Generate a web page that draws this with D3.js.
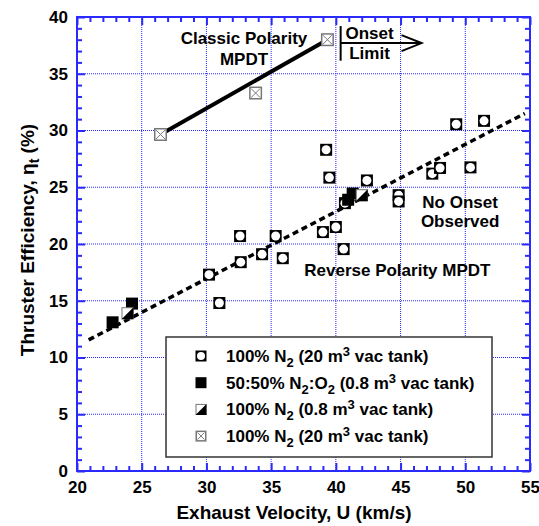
<!DOCTYPE html>
<html>
<head>
<meta charset="utf-8">
<script src="https://cdn.jsdelivr.net/npm/d3@7"></script>
<style>
  body { margin: 0; background: #fff; }
  svg text { font-family: "Liberation Sans", Arial, sans-serif; font-weight: bold; fill: #000; }
</style>
</head>
<body>
<svg id="chart" width="539" height="526"></svg>
<script>
// open circle, 100% N2 (20 m3 tank)
var openX = [30.2, 31.0, 32.6, 32.65, 34.3, 35.35, 35.9, 39.0, 39.25, 39.5, 40.0, 40.6, 40.7, 42.4, 44.85, 44.85, 47.45, 48.05, 49.3, 50.4, 51.45];
var openY = [17.3, 14.8, 20.7, 18.4, 19.1, 20.7, 18.75, 21.05, 28.3, 25.85, 21.5, 19.55, 23.6, 25.6, 24.3, 23.75, 26.2, 26.7, 30.55, 26.75, 30.85];
// filled square, 50:50 N2:O2
var blackX = [22.75, 24.25, 40.95, 41.3];
var blackY = [13.1, 14.75, 23.9, 24.45];
// half filled, 100% N2 (0.8 m3 tank)
var halfX = [23.9, 42.0];
var halfY = [13.9, 24.3];
// crossed square, classic polarity
var crossX = [26.45, 33.8, 39.35];
var crossY = [29.65, 33.3, 38.0];
// dotted trend line (reverse polarity)
var fitX = [20.9, 54.6];
var fitY = [11.55, 31.5];

var xMajor = [20, 25, 30, 35, 40, 45, 50, 55];
var yMajor = [0, 5, 10, 15, 20, 25, 30, 35, 40];

var legendLabels = [
  [["100% N"], ["2", "sub"], [" (20 m"], ["3", "sup"], [" vac tank)"]],
  [["50:50% N"], ["2", "sub"], [":O"], ["2", "sub"], [" (0.8 m"], ["3", "sup"], [" vac tank)"]],
  [["100% N"], ["2", "sub"], [" (0.8 m"], ["3", "sup"], [" vac tank)"]],
  [["100% N"], ["2", "sub"], [" (20 m"], ["3", "sup"], [" vac tank)"]]
];
var legendKinds = ["open", "black", "half", "cross"];

var blue = "#2a2aff";
var svg = d3.select("#chart");
var pLeft = 77, pRight = 530, pTop = 17, pBottom = 471;

var x = d3.scaleLinear().domain([20, 55]).range([pLeft, pRight]);
var y = d3.scaleLinear().domain([0, 40]).range([pBottom, pTop]);

var xMinor = d3.range(20, 56, 1).filter(function(d) { return d % 5; });
var yMinor = d3.range(0, 41, 1).filter(function(d) { return d % 5; });

// grid
var grid = svg.append("g");
grid.selectAll(".gx").data(xMajor.slice(1, -1)).enter().append("line")
  .attr("x1", x).attr("x2", x).attr("y1", pTop).attr("y2", pBottom)
  .attr("stroke", blue).attr("stroke-width", 1).attr("stroke-dasharray", "1,1");
grid.selectAll(".gy").data(yMajor.slice(1, -1)).enter().append("line")
  .attr("y1", y).attr("y2", y).attr("x1", pLeft).attr("x2", pRight)
  .attr("stroke", blue).attr("stroke-width", 1).attr("stroke-dasharray", "1,1");

// axes, ticks pointing inward on all four sides
function styleAxis(g) {
  g.select(".domain").remove();
  g.selectAll(".tick line").attr("stroke", blue).attr("stroke-width", 2);
  g.selectAll(".tick text").style("font-size", "17px");
}
svg.append("g").attr("transform", "translate(0," + pBottom + ")")
  .call(d3.axisBottom(x).tickValues(xMajor).tickSize(-8).tickPadding(10).tickFormat(d3.format("d"))).call(styleAxis);
svg.append("g").attr("transform", "translate(0," + pBottom + ")")
  .call(d3.axisBottom(x).tickValues(xMinor).tickSize(-5).tickFormat("")).call(styleAxis);
svg.append("g").attr("transform", "translate(0," + pTop + ")")
  .call(d3.axisTop(x).tickValues(xMajor).tickSize(-8).tickFormat("")).call(styleAxis);
svg.append("g").attr("transform", "translate(0," + pTop + ")")
  .call(d3.axisTop(x).tickValues(xMinor).tickSize(-5).tickFormat("")).call(styleAxis);
svg.append("g").attr("transform", "translate(" + pLeft + ",0)")
  .call(d3.axisLeft(y).tickValues(yMajor).tickSize(-8).tickPadding(9).tickFormat(d3.format("d"))).call(styleAxis);
svg.append("g").attr("transform", "translate(" + pLeft + ",0)")
  .call(d3.axisLeft(y).tickValues(yMinor).tickSize(-5).tickFormat("")).call(styleAxis);
svg.append("g").attr("transform", "translate(" + pRight + ",0)")
  .call(d3.axisRight(y).tickValues(yMajor).tickSize(-8).tickFormat("")).call(styleAxis);
svg.append("g").attr("transform", "translate(" + pRight + ",0)")
  .call(d3.axisRight(y).tickValues(yMinor).tickSize(-5).tickFormat("")).call(styleAxis);

svg.append("rect").attr("x", pLeft).attr("y", pTop)
  .attr("width", pRight - pLeft).attr("height", pBottom - pTop)
  .attr("fill", "none").attr("stroke", blue).attr("stroke-width", 2);

// lines
var line = d3.line().x(function(d) { return x(d[0]); }).y(function(d) { return y(d[1]); });
svg.append("path").datum(d3.zip(fitX, fitY)).attr("d", line)
  .attr("fill", "none").attr("stroke", "#000").attr("stroke-width", 3.5).attr("stroke-dasharray", "6,4");
svg.append("path").datum([[crossX[0], crossY[0]], [crossX[2], crossY[2]]]).attr("d", line)
  .attr("fill", "none").attr("stroke", "#000").attr("stroke-width", 4);

// markers
function marker(g, kind, cx, cy, s) {
  var h = s / 2;
  if (kind === "open") {
    g.append("rect").attr("x", cx - h).attr("y", cy - h).attr("width", s).attr("height", s).attr("fill", "#000");
    g.append("circle").attr("cx", cx).attr("cy", cy).attr("r", h - 1.5).attr("fill", "#fff");
  } else if (kind === "black") {
    g.append("rect").attr("x", cx - h).attr("y", cy - h).attr("width", s).attr("height", s).attr("fill", "#000");
  } else if (kind === "half") {
    g.append("rect").attr("x", cx - h + 0.5).attr("y", cy - h + 0.5).attr("width", s - 1).attr("height", s - 1)
      .attr("fill", "#fff").attr("stroke", "#777").attr("stroke-width", 1);
    g.append("path").attr("d", "M" + (cx + h) + "," + (cy - h) + "L" + (cx + h) + "," + (cy + h) + "L" + (cx - h) + "," + (cy + h) + "Z")
      .attr("fill", "#000");
  } else {
    g.append("rect").attr("x", cx - h + 0.75).attr("y", cy - h + 0.75).attr("width", s - 1.5).attr("height", s - 1.5)
      .attr("fill", "#fff").attr("stroke", "#777").attr("stroke-width", 1.5);
    g.append("path").attr("d", "M" + (cx - h + 2) + "," + (cy - h + 2) + "L" + (cx + h - 2) + "," + (cy + h - 2) +
      "M" + (cx + h - 2) + "," + (cy - h + 2) + "L" + (cx - h + 2) + "," + (cy + h - 2))
      .attr("stroke", "#777").attr("stroke-width", 1);
  }
}
var marks = svg.append("g");
openX.forEach(function(v, i) { marker(marks, "open", x(v), y(openY[i]), 12); });
blackX.forEach(function(v, i) { marker(marks, "black", x(v), y(blackY[i]), 12); });
halfX.forEach(function(v, i) { marker(marks, "half", x(v), y(halfY[i]), 12); });
crossX.forEach(function(v, i) { marker(marks, "cross", x(v), y(crossY[i]), 13); });

// annotations
function label(txt, dx, dy, size) {
  svg.append("text").attr("x", x(dx)).attr("y", y(dy)).attr("text-anchor", "middle")
    .style("font-size", (size || 17) + "px").text(txt);
}
label("Classic Polarity", 32.9, 37.65);
label("MPDT", 32.9, 35.8);
label("Onset", 42.6, 38.1);
label("Limit", 42.6, 36.3);
label("No Onset", 49.6, 23.2);
label("Observed", 49.6, 21.5);
label("Reverse Polarity MPDT", 44.75, 17.2);

// onset limit bracket and arrow
var ox = x(40.37), oy = y(37.7), tip = x(46.62);
svg.append("line").attr("x1", ox).attr("x2", ox).attr("y1", y(39.2)).attr("y2", y(36.15))
  .attr("stroke", "#000").attr("stroke-width", 2);
svg.append("line").attr("x1", ox).attr("x2", tip).attr("y1", oy).attr("y2", oy)
  .attr("stroke", "#000").attr("stroke-width", 2);
svg.append("path").attr("d", "M" + (tip - 20) + "," + (oy - 8) + "L" + tip + "," + oy + "L" + (tip - 20) + "," + (oy + 8))
  .attr("fill", "none").attr("stroke", "#000").attr("stroke-width", 2);

// axis titles
svg.append("text").attr("x", 294).attr("y", 519).attr("text-anchor", "middle")
  .style("font-size", "19px").text("Exhaust Velocity, U (km/s)");
var yt = svg.append("text").attr("transform", "translate(34,240) rotate(-90)").attr("text-anchor", "middle")
  .style("font-size", "19px");
yt.append("tspan").text("Thruster Efficiency, \u03b7");
yt.append("tspan").attr("dy", 5).style("font-size", "14px").text("t");
yt.append("tspan").attr("dy", -5).text(" (%)");

// legend
var lg = svg.append("g");
lg.append("rect").attr("x", 166).attr("y", 337).attr("width", 326).attr("height", 120)
  .attr("fill", "#fff").attr("stroke", "#333").attr("stroke-width", 1.5);
legendLabels.forEach(function(parts, i) {
  var cy = 356 + i * 26.7;
  marker(lg, legendKinds[i], 201, cy, 11);
  var t = lg.append("text").attr("x", 226).attr("y", cy + 6).style("font-size", "17px");
  var shift = 0;
  parts.forEach(function(p) {
    var ts = t.append("tspan").text(p[0]);
    var want = p[1] === "sub" ? 5 : p[1] === "sup" ? -6 : 0;
    if (want !== shift) ts.attr("dy", want - shift);
    if (p[1]) ts.style("font-size", "13px");
    shift = want;
  });
});
</script>
</body>
</html>
